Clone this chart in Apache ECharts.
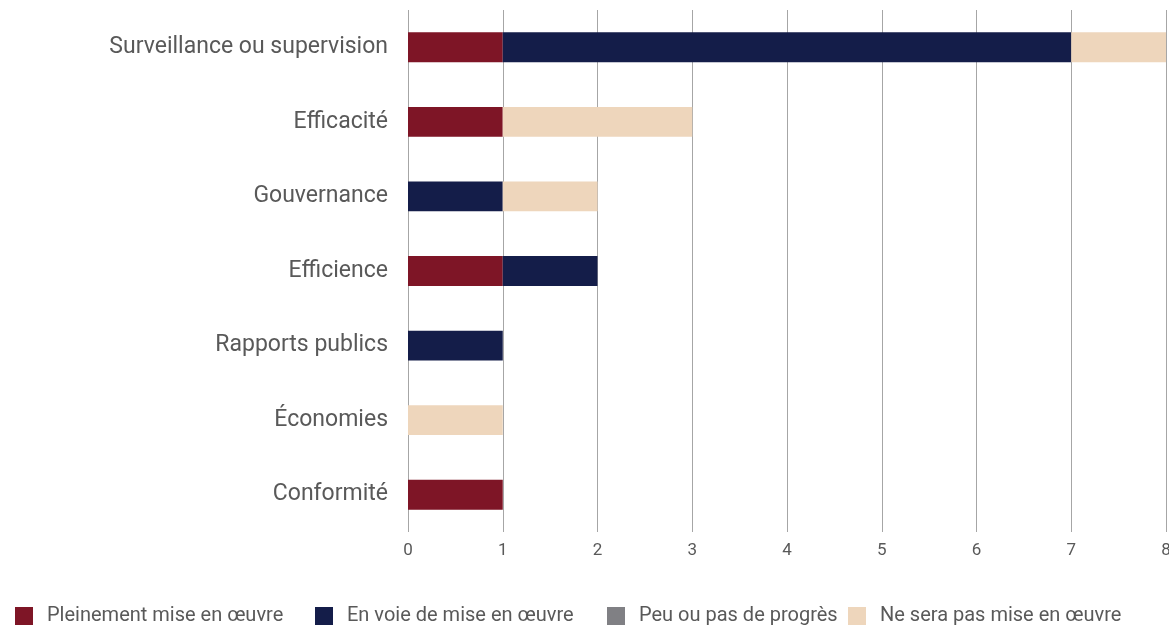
<!DOCTYPE html>
<html>
<head>
<meta charset="utf-8">
<script src="https://cdn.jsdelivr.net/npm/echarts@6/dist/echarts.min.js"></script>
<style>
  html, body { margin: 0; padding: 0; background: #fff; }
  #chart { width: 1169px; height: 629px; }
</style>
</head>
<body>
<div id="chart"></div>
<script>
// Domains of the recommendations, listed top to bottom
const categories = [
  'Surveillance ou supervision',
  'Efficacité',
  'Gouvernance',
  'Efficience',
  'Rapports publics',
  'Économies',
  'Conformité'
];

// Implementation status counts per domain (same order as categories)
const pleinement = [1, 1, 0, 1, 0, 0, 1];
const enVoie     = [6, 0, 1, 1, 1, 0, 0];
const peuOuPas   = [0, 0, 0, 0, 0, 0, 0];
const neSeraPas  = [1, 2, 1, 0, 0, 1, 0];

const statusNames = [
  'Pleinement mise en œuvre',
  'En voie de mise en œuvre',
  'Peu ou pas de progrès',
  'Ne sera pas mise en œuvre'
];
const statusColors = ['#7e1526', '#141d49', '#808084', '#eed6bc'];
const statusValues = [pleinement, enVoie, peuOuPas, neSeraPas];

const xTicks = [0, 1, 2, 3, 4, 5, 6, 7, 8];

const FONT = 'Roboto';
const TEXT = '#595959';

// left edge of each legend entry along the bottom row
const legendLefts = [15, 315, 607, 848];

const chart = echarts.init(document.getElementById('chart'), null, { renderer: 'canvas' });

const series = statusNames.map((name, i) => ({
  name,
  type: 'bar',
  stack: 'total',
  barWidth: '40%',
  itemStyle: { color: statusColors[i] },
  // zero-length segments are left out so they draw nothing
  data: statusValues[i].map(v => (v === 0 ? null : v)),
  emphasis: { disabled: true }
}));

const legends = statusNames.map((name, i) => ({
  top: 606,
  left: legendLefts[i],
  padding: 0,
  icon: 'rect',
  itemWidth: 18,
  itemHeight: 18,
  selectedMode: false,
  textStyle: { color: TEXT, fontFamily: FONT, fontSize: 20, padding: [0, 0, 0, 9] },
  data: [name]
}));

chart.setOption({
  animation: false,
  grid: { left: 408, right: 3, top: 10, bottom: 97, containLabel: false, outerBoundsMode: 'none' },
  xAxis: {
    type: 'value',
    min: xTicks[0],
    max: xTicks[xTicks.length - 1],
    interval: 1,
    axisLine: { show: false },
    axisTick: { show: false },
    splitLine: { show: true, lineStyle: { color: '#a6a6a6', width: 1 } },
    axisLabel: {
      color: TEXT, fontFamily: FONT, fontSize: 17, margin: 10,
      formatter: v => String(v)
    }
  },
  yAxis: {
    type: 'category',
    data: categories,
    inverse: true,
    axisLine: { show: false },
    axisTick: { show: false },
    axisLabel: { color: TEXT, fontFamily: FONT, fontSize: 23, margin: 20 }
  },
  legend: legends,
  series
});
</script>
</body>
</html>
